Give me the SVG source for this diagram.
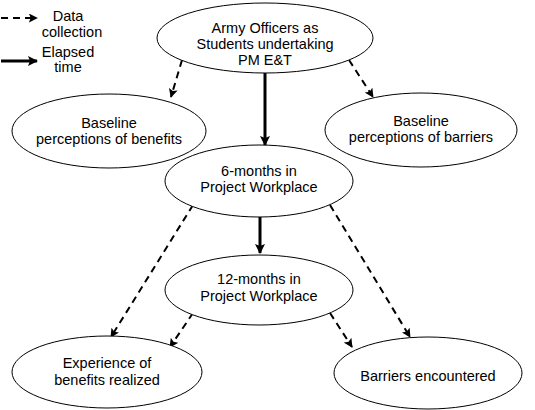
<svg xmlns="http://www.w3.org/2000/svg" width="535" height="410" viewBox="0 0 535 410">
<defs>
<marker id="ah" viewBox="0 0 10 10" refX="9" refY="5" markerWidth="9" markerHeight="9" markerUnits="userSpaceOnUse" orient="auto">
<path d="M0,0 L10,5 L0,10 L2,5 z" fill="#000"/>
</marker>
<marker id="ahs" viewBox="0 0 10 10" refX="9" refY="5" markerWidth="10" markerHeight="10" markerUnits="userSpaceOnUse" orient="auto">
<path d="M0,0 L10,5 L0,10 L2,5 z" fill="#000"/>
</marker>
</defs>
<style>
.node ellipse{fill:#fff;stroke:#000;stroke-width:1}
text{font-family:"Liberation Sans",Arial,sans-serif;font-size:14.5px;fill:#000;text-anchor:middle}
.dash{stroke:#000;stroke-width:2;stroke-dasharray:7,5;fill:none;marker-end:url(#ah)}
.solid{stroke:#000;stroke-width:3;fill:none;marker-end:url(#ahs)}
</style>
<rect width="535" height="410" fill="#fff"/>
<g id="legend">
<line class="dash" x1="1" y1="18" x2="37" y2="18"/>
<text x="68" y="21">Data</text>
<text x="72" y="37">collection</text>
<line class="solid" x1="1" y1="61" x2="37" y2="61"/>
<text x="68" y="57">Elapsed</text>
<text x="68" y="72">time</text>
</g>
<g id="connectors">
<line class="dash" x1="182" y1="60" x2="171" y2="97"/>
<line class="dash" x1="349" y1="60" x2="373" y2="97"/>
<line class="solid" x1="265" y1="73" x2="265" y2="145"/>
<line class="solid" x1="260" y1="217" x2="260" y2="253"/>
<line class="dash" x1="193" y1="205" x2="111" y2="337"/>
<line class="dash" x1="330" y1="205" x2="410" y2="337"/>
<line class="dash" x1="193" y1="313" x2="170" y2="347"/>
<line class="dash" x1="330" y1="313" x2="352" y2="347"/>
</g>
<g id="n-top" class="node">
<ellipse cx="265" cy="38" rx="108" ry="35"/>
<text x="265" y="33">Army Officers as</text>
<text x="265" y="49">Students undertaking</text>
<text x="265" y="65">PM E&amp;T</text>
</g>
<g id="n-benefits" class="node">
<ellipse cx="109" cy="131" rx="97" ry="37"/>
<text x="109" y="128">Baseline</text>
<text x="109" y="144">perceptions of benefits</text>
</g>
<g id="n-barriers" class="node">
<ellipse cx="421" cy="130" rx="96" ry="37"/>
<text x="421" y="126">Baseline</text>
<text x="421" y="142">perceptions of barriers</text>
</g>
<g id="n-6m" class="node">
<ellipse cx="259" cy="181" rx="94" ry="36"/>
<text x="259" y="176">6-months in</text>
<text x="259" y="192">Project Workplace</text>
</g>
<g id="n-12m" class="node">
<ellipse cx="259" cy="290" rx="94" ry="35"/>
<text x="259" y="284">12-months in</text>
<text x="259" y="301">Project Workplace</text>
</g>
<g id="n-exp" class="node">
<ellipse cx="107" cy="372" rx="95" ry="36"/>
<text x="107" y="368">Experience of</text>
<text x="107" y="385">benefits realized</text>
</g>
<g id="n-bar" class="node">
<ellipse cx="428" cy="373" rx="94" ry="36"/>
<text x="428" y="381">Barriers encountered</text>
</g>
</svg>
